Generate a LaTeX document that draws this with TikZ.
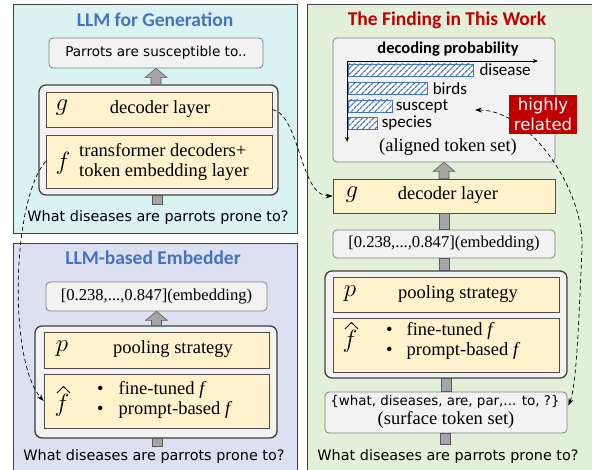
\documentclass[tikz,border=0pt]{standalone}
\usepackage{fontspec}
\setmainfont{Liberation Serif}
\newfontfamily\comicfont{DejaVu Sans}
\newfontfamily\calfont{Carlito}
\usetikzlibrary{calc,arrows.meta,patterns.meta}
\definecolor{cyanbg}{HTML}{DAF3F2}
\definecolor{lavbg}{HTML}{DCE0F0}
\definecolor{greenbg}{HTML}{E2F0D9}
\definecolor{yfill}{HTML}{FFF2CC}
\definecolor{boxgray}{HTML}{F2F2F2}
\definecolor{titleblue}{HTML}{4472C4}
\definecolor{darkred}{HTML}{C00000}
\definecolor{barblue}{HTML}{4472C4}
\newcommand\blockup[2]{%
  \draw[barrow] ($(#2.south |- #1.north)+(-5,0)$) -- ($(#2.south)+(-5,9)$) -- ($(#2.south)+(-11,9)$) -- (#2.south) -- ($(#2.south)+(11,9)$) -- ($(#2.south)+(5,9)$) -- ($(#2.south |- #1.north)+(5,0)$) -- cycle;}
\newcommand\stemup[2]{%
  \draw[barrow] ($(#2.south |- #1.north)+(-5,0)$) rectangle ($(#2.south)+(5,0)$);}
\newcommand\hatover[1]{%
  \draw[hatline] ($(#1.center)+(-5,-12)$) -- ($(#1.center)+(1.5,-18.5)$) -- ($(#1.center)+(8,-12)$);}
\begin{document}
\begin{tikzpicture}[x=1pt,y=-1pt,
  panel/.style={draw=black!75, line width=0.8pt, inner sep=0pt},
  outbox/.style={draw=black!50, fill=boxgray, rounded corners=4pt, line width=0.8pt, inner sep=0pt},
  container/.style={draw=black!75, fill=boxgray, rounded corners=7pt, line width=1.3pt, inner sep=0pt},
  ybox/.style={draw=black!70, fill=yfill, line width=0.8pt, inner sep=0pt},
  barrow/.style={draw=black!65, fill=black!35, line width=0.6pt},
  hatline/.style={line width=0.9pt, line join=miter},
  title/.style={font=\calfont\bfseries\fontsize{19.5}{22}\selectfont, inner sep=0pt},
  comictxt/.style={font=\comicfont\fontsize{14.4}{17}\selectfont, inner sep=0pt},
  serif/.style={font=\fontsize{18.5}{20}\selectfont, inner sep=0pt},
  embtxt/.style={font=\fontsize{16.6}{20}\selectfont, inner sep=0pt},
  sym/.style={font=\fontsize{24}{28}\selectfont, inner sep=0pt},
  bar/.style={draw=barblue, line width=0.6pt, preaction={fill=white}, pattern={Lines[angle=45,distance=4pt,line width=1.3pt]}, pattern color=barblue},
  barlab/.style={font=\calfont\fontsize{17}{20}\selectfont, inner sep=0pt, anchor=west},
  dasharr/.style={dashed, line width=0.7pt, dash pattern=on 4pt off 3pt, -{Stealth[length=7pt,width=5pt]}}
]
\useasboundingbox (0,0) rectangle (592,470);
% panels
\node[panel, fill=cyanbg, minimum width=284pt, minimum height=229pt] (pan1) at (155,118.5) {};
\node[panel, fill=lavbg, minimum width=284pt, minimum height=237pt] (pan2) at (155,361.5) {};
\node[panel, fill=greenbg, minimum width=293pt, minimum height=476pt] (pan3) at (453.5,242) {};

% ---------- LLM for Generation
\node[title, text=titleblue] (t1) at (155,20) {LLM for Generation};
\node[outbox, minimum width=214pt, minimum height=30pt] (out1) at (156,53) {};
\node[comictxt, font=\comicfont\fontsize{13.6}{16}\selectfont] (out1t) at (156,53) {Parrots are susceptible to..};
\node[container, minimum width=239pt, minimum height=110pt] (c1) at (158.5,140) {};
\node[ybox, minimum width=226pt, minimum height=35pt] (g1) at (159,109.5) {};
\node[ybox, minimum width=226pt, minimum height=53pt] (f1) at (159,161.5) {};
\node[sym] (g1s) at (62,108) {$g$};
\node[serif] (g1t) at (160,109) {decoder layer};
\node[sym] (f1s) at (63,163) {$f$};
\node[serif, align=left, anchor=west] (f1t) at (79,162) {transformer decoders+\\token embedding layer};
\node[comictxt] (q1) at (158,218) {What diseases are parrots prone to?};
\coordinate (q1top) at (157,204);
\blockup{c1}{out1}
\draw[barrow] ($(q1top)+(-5,0)$) rectangle ($(q1top |- c1.south)+(5,0)$);

% ---------- LLM-based Embedder
\node[title, text=titleblue] (t2) at (153,258) {LLM-based Embedder};
\node[outbox, minimum width=221pt, minimum height=29pt] (e1) at (156.5,296.5) {};
\node[embtxt] (e1t) at (156.5,296.5) {[0.238,...,0.847](embedding)};
\node[container, minimum width=242pt, minimum height=112pt] (c2) at (156,382) {};
\node[ybox, minimum width=225pt, minimum height=36pt] (p1) at (156.5,350) {};
\node[ybox, minimum width=225pt, minimum height=54pt] (h1) at (156.5,401) {};
\node[sym] (p1s) at (62,349) {$p$};
\node[serif] (p1t) at (173,349) {pooling strategy};
\node[sym] (h1s) at (62,405) {$f$};
\hatover{h1s}
\node[serif, align=left, anchor=west] (h1t) at (97,400) {\textbullet\hspace{15pt}fine-tuned \textit{f}\\\textbullet\hspace{15pt}prompt-based \textit{f}};
\node[comictxt] (q2) at (154,457) {What diseases are parrots prone to?};
\coordinate (q2top) at (157,446);
\blockup{c2}{e1}
\draw[barrow] ($(q2top)+(-5,0)$) rectangle ($(q2top |- c2.south)+(5,0)$);

% ---------- The Finding in This Work
\node[title, text=darkred] (t3) at (447,20) {The Finding in This Work};
\node[outbox, minimum width=222pt, minimum height=124pt] (al) at (444,100) {};
\node[font=\calfont\bfseries\fontsize{16.5}{18}\selectfont, inner sep=0pt] (dp) at (448,49) {decoding probability};
\coordinate (ax) at (347,61);
\coordinate (axr) at (538,61);
\coordinate (axd) at (347,142);
\draw[line width=0.7pt, -{Stealth[length=5pt,width=4pt]}] (ax) -- (axr);
\draw[line width=0.7pt, -{Stealth[length=5pt,width=4pt]}] (ax) -- (axd);
\node[bar, minimum width=125pt, minimum height=12pt, anchor=west] (b1) at (348,70) {};
\node[bar, minimum width=79pt, minimum height=12pt, anchor=west] (b2) at (348,88.5) {};
\node[bar, minimum width=44pt, minimum height=12pt, anchor=west] (b3) at (348,106) {};
\node[bar, minimum width=29pt, minimum height=12pt, anchor=west] (b4) at (348,123.5) {};
\node[barlab] (l1) at ($(b1.east)+(5,0)$) {disease};
\node[barlab] (l2) at ($(b2.east)+(5,0)$) {birds};
\node[barlab] (l3) at ($(b3.east)+(3,0)$) {suscept};
\node[barlab] (l4) at ($(b4.east)+(4,0)$) {species};
\node[serif] (alt) at (448,147) {(aligned token set)};
\coordinate (hrtip) at (475,110);

\node[ybox, minimum width=222pt, minimum height=34pt] (g2) at (444,196) {};
\node[sym] (g2s) at (352,195) {$g$};
\node[serif] (g2t) at (448,195) {decoder layer};
\node[outbox, minimum width=222pt, minimum height=28pt] (e2) at (444,244) {};
\node[embtxt] (e2t) at (444,244) {[0.238,...,0.847](embedding)};
\node[container, minimum width=242pt, minimum height=107pt] (c3) at (446,324.5) {};
\node[ybox, minimum width=226pt, minimum height=35pt] (p2) at (446,294.5) {};
\node[ybox, minimum width=226pt, minimum height=54pt] (h2) at (446,345) {};
\node[sym] (p2s) at (350,294) {$p$};
\node[serif] (p2t) at (458,294) {pooling strategy};
\node[sym] (h2s) at (350,341) {$f$};
\hatover{h2s}
\node[serif, align=left, anchor=west] (h2t) at (386,341) {\textbullet\hspace{14pt}fine-tuned \textit{f}\\\textbullet\hspace{14pt}prompt-based \textit{f}};
\node[outbox, minimum width=242pt, minimum height=41pt] (sf) at (446,412.5) {};
\node[comictxt, font=\comicfont\fontsize{13.4}{16}\selectfont] (sf1) at (445,402) {\{what, diseases, are, par,... to, ?\}};
\node[serif] (sf2) at (446,420) {(surface token set)};
\node[comictxt] (q3) at (448,457) {What diseases are parrots prone to?};
\coordinate (q3top) at (445,444);
\blockup{g2}{al}
\stemup{e2}{g2}
\stemup{c3}{e2}
\stemup{sf}{c3}
\draw[barrow] ($(q3top)+(-5,0)$) rectangle ($(q3top |- sf.south)+(5,0)$);

% dashed connectors
\draw[dasharr] (g1.east) .. controls (300,115) and (300,196) .. (g2.west);
\draw[dasharr] (f1.west) .. controls (12,200) and (8,360) .. (h1.west);
\draw[dasharr, {Stealth[length=7pt,width=5pt]}-{Stealth[length=7pt,width=5pt]}] (hrtip) .. controls (530,110) and (585,190) .. (582,250) .. controls (579,310) and (577,385) .. ($(sf.east)+(1,-7)$);
\node[fill=darkred, minimum width=68pt, minimum height=39pt, inner sep=0pt, text=white, align=center, font=\comicfont\fontsize{16.5}{20}\selectfont] (hr) at (543,114.5) {highly\\related};
\end{tikzpicture}
\end{document}
